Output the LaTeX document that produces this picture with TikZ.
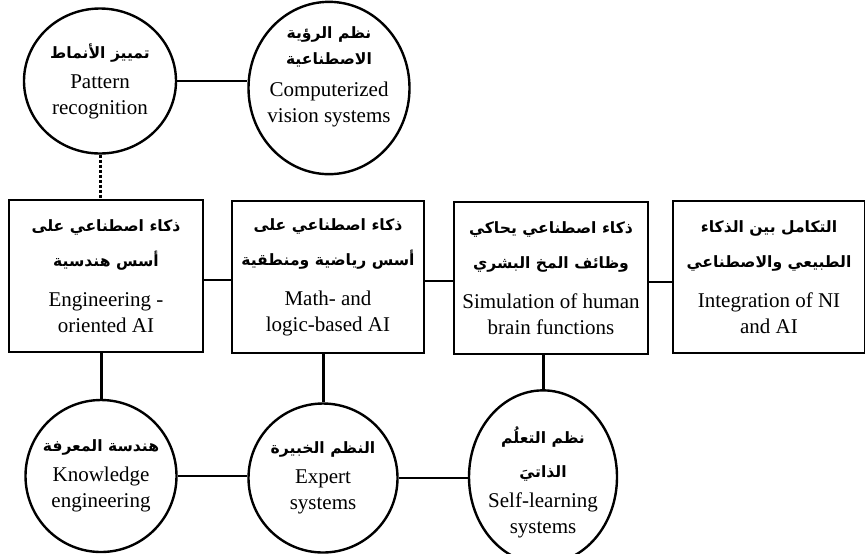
\documentclass[tikz,border=0pt]{standalone}
\usepackage{fontspec}
\setmainfont{Liberation Serif}
\newfontfamily\arabicfont[Script=Arabic]{DejaVu Sans}
\TeXXeTstate=1
\usetikzlibrary{shapes.geometric}
\newcommand{\arln}[1]{{\arabicfont\bfseries\fontsize{7.8}{10}\selectfont\beginR #1\endR}}

\begin{document}
\begin{tikzpicture}[x=0.5pt,y=-0.5pt,
    topic/.style ={ellipse, draw, line width=1.2pt, inner xsep=-5pt, inner ysep=0pt, align=center,
      minimum width=75pt, minimum height=74pt, font=\fontsize{10.5}{13}\selectfont},
    field/.style ={rectangle, draw, line width=1.2pt, inner sep=0pt, align=center,
      minimum width=97pt, minimum height=76pt, font=\fontsize{10.5}{13}\selectfont},
    link/.style ={line width=0.9pt},
    stem/.style ={line width=1.5pt}]
   \useasboundingbox (0,0) rectangle (865,553);

   \node[topic, minimum width=76pt, minimum height=72.5pt] (pr) at (100,81)
      {\arln{تمييز الأنماط}\\[2pt] Pattern\\ recognition};
   \node[topic, minimum width=80.5pt, minimum height=75pt] (cv) at (329,88)
      {\arln{نظم الرؤية}\\[0pt]\arln{الاصطناعية}\\[3pt] Computerized\\ vision systems\rule[-13pt]{0pt}{13pt}};

   \node[field] (eng)  at (106,276) {\arln{ذكاء اصطناعي على}\\[4.5pt]\arln{أسس هندسية}\\[7pt] Engineering -\\ oriented AI};
   \node[field, minimum width=96pt] (math) at (328,277) {\arln{ذكاء اصطناعي على}\\[4.5pt]\arln{أسس رياضية ومنطقية}\\[7pt] Math- and\\ logic-based AI};
   \node[field] (brain) at (551,278) {\arln{ذكاء اصطناعي يحاكي}\\[4.5pt]\arln{وظائف المخ البشري}\\[7pt] Simulation of human\\ brain functions};
   \node[field, minimum width=96pt] (ni) at (769,277) {\arln{التكامل بين الذكاء}\\[4.5pt]\arln{الطبيعي والاصطناعي}\\[7pt] Integration of NI\\ and AI};

   \node[topic, minimum width=75.5pt, minimum height=76pt] (ke) at (101,476)
      {\arln{هندسة المعرفة}\\[2pt] Knowledge\\ engineering};
   \node[topic, minimum width=74.5pt, minimum height=74.5pt] (es) at (323,478)
      {\arln{النظم الخبيرة}\\[2pt] Expert\\ systems};
   \node[topic, minimum width=74pt, minimum height=75pt] (sl) at (543,477)
      {\rule{0pt}{14pt}\arln{نظم التعلُم}\\[4pt]\arln{الذاتيَ}\\[2pt] Self-learning\\ systems};

   \draw[link] (pr.east) to (pr.east -| cv.west);
   \draw[stem, densely dotted] (pr.south) to (pr.south |- eng.north);

   \draw[link] ([yshift=-2pt]eng.east) to ([yshift=-2pt]eng.east -| math.west);
   \draw[link] ([yshift=-2pt]math.east) to ([yshift=-2pt]math.east -| brain.west);
   \draw[link] ([yshift=-2pt]brain.east) to ([yshift=-2pt]brain.east -| ni.west);

   \draw[stem] (ke.north) to (ke.north |- eng.south);
   \draw[stem] (es.north) to (es.north |- math.south);
   \draw[stem] (sl.north) to (sl.north |- brain.south);

   \draw[link] (ke.east) to (ke.east -| es.west);
   \draw[link] (es.east) to (es.east -| sl.west);
 \end{tikzpicture}
\end{document}
